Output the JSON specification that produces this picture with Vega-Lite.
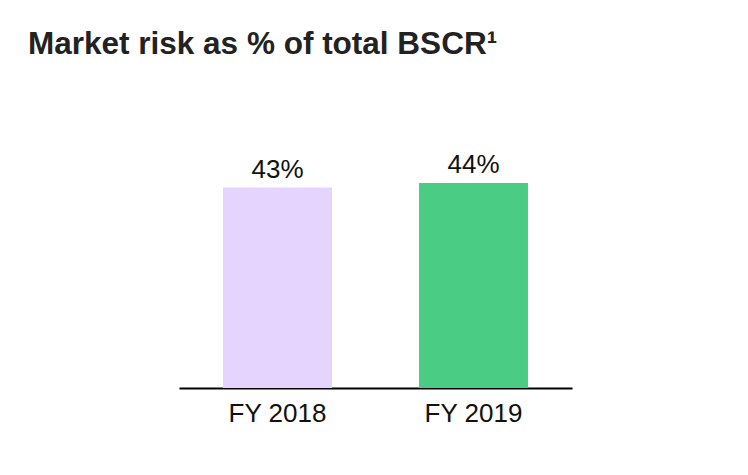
{
  "$schema": "https://vega.github.io/schema/vega-lite/v6.json",
  "width": 393,
  "height": 233,
  "autosize": {"type": "none"},
  "padding": {"left": 179, "top": 155, "right": 176, "bottom": 87},
  "background": "white",
  "title": {
    "text": "Market risk as % of total BSCR¹",
    "anchor": "start",
    "frame": "group",
    "orient": "top",
    "baseline": "alphabetic",
    "font": "Liberation Sans",
    "fontSize": 31.5,
    "fontWeight": "bold",
    "color": "#222222",
    "dx": -151,
    "offset": 66
  },
  "data": {
    "values": [
      {"year": "FY 2018", "value": 43, "label": "43%"},
      {"year": "FY 2019", "value": 44, "label": "44%"}
    ]
  },
  "encoding": {
    "x": {
      "field": "year",
      "type": "nominal",
      "sort": null,
      "scale": {"paddingInner": 0.444, "paddingOuter": 0.2245},
      "axis": {
        "title": null,
        "labelAngle": 0,
        "ticks": false,
        "domainColor": "#000000",
        "domainWidth": 2,
        "labelFont": "Liberation Sans",
        "labelFontSize": 26,
        "labelColor": "#111111",
        "labelPadding": 12
      }
    },
    "y": {
      "field": "value",
      "type": "quantitative",
      "scale": {"domain": [0, 50]},
      "axis": null
    }
  },
  "layer": [
    {
      "mark": {"type": "bar"},
      "encoding": {
        "color": {
          "field": "year",
          "type": "nominal",
          "scale": {"domain": ["FY 2018", "FY 2019"], "range": ["#E5D4FE", "#4BCC85"]},
          "legend": null
        }
      }
    },
    {
      "mark": {"type": "text", "baseline": "alphabetic", "dy": -10, "font": "Liberation Sans", "fontSize": 26, "color": "#111111"},
      "encoding": {"text": {"field": "label"}}
    }
  ],
  "config": {"view": {"stroke": null}}
}
